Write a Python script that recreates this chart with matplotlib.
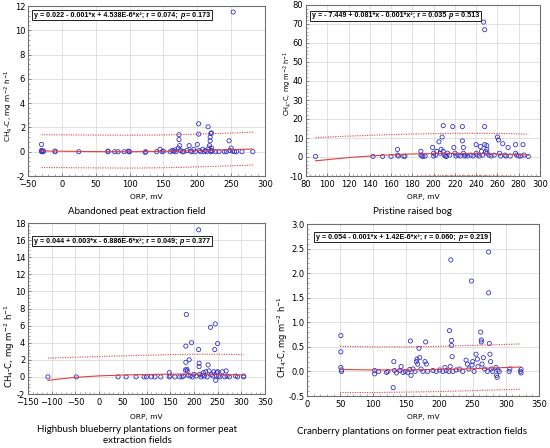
import numpy as np
import matplotlib
matplotlib.use("Agg")
import matplotlib.pyplot as plt
from matplotlib.patches import Rectangle
from matplotlib.transforms import Bbox, IdentityTransform
from matplotlib.ticker import FormatStrFormatter, AutoMinorLocator

# ---- data ----
# Abandoned peat extraction field
orp_a = [-30, -30, -29, -28, -27, -30, -10, -10, 25, 68, 68, 78, 83, 92, 98, 99, 100,
         123, 124, 140, 145, 148, 150, 160, 163, 165, 167, 168, 172, 173, 173, 174, 175,
         178, 180, 185, 188, 190, 192, 195, 197, 200, 202, 202, 203, 205, 208, 210, 212,
         214, 216, 217, 218, 219, 219, 220, 221, 220, 221, 222, 220, 227, 232, 240, 243,
         247, 248, 250, 252, 253, 255, 258, 266, 282]
ch4_a = [0.6, 0.1, 0.05, 0, 0.05, 0, 0, 0.05, 0, 0, 0.05, 0, 0, 0, 0.05, 0, 0,
         -0.05, 0, 0, 0.2, 0, 0.05, 0, 0.1, 0.05, 0.15, 0, 0.3, 1.4, 1.0, 0.5, 0.1,
         0, 0, 0.1, 0.5, 0.05, 0, 0.2, 0, 0.6, 2.3, 1.45, 0.1, 0, 0.2, 0, 0.1,
         0, 2.05, 0.3, 0.5, 1.2, 0.9, 1.5, 1.55, 0.1, 0.3, 0.05, 0, 0, 0, 0, 0,
         0.9, 0.1, 0.3, 0.05, 11.5, 0, 0, 0, 0]
fit_x_a = [-30, 50, 100, 150, 200, 282]
fit_a = [0.06, 0.01, 0.0, 0.03, 0.09, 0.22]
upper_a = [1.4, 1.37, 1.36, 1.38, 1.45, 1.6]
lower_a = [-1.3, -1.33, -1.35, -1.32, -1.25, -1.1]

# Pristine raised bog
orp_b = [89, 143, 152, 160, 166, 166, 167, 172, 173, 188, 188, 189, 190, 192,
         199, 200, 200, 202, 203, 205, 206, 207, 208, 209, 209, 210, 211, 212, 213,
         215, 218, 219, 220, 221, 223, 225, 227, 227, 228, 228, 229, 230, 232, 235,
         237, 240, 240, 241, 243, 244, 245, 246, 247, 248, 248, 248, 249, 250, 250,
         250, 252, 254, 257, 260, 261, 262, 263, 265, 267, 268, 270, 272, 277, 277,
         278, 280, 282, 284, 285, 289]
ch4_b = [0.3, 0.3, 0.3, 0.3, 4, 1, 0.5, 0.3, 0.5, 3, 1, 0.5, 0.3, 0.5,
         5, 2, 0.5, 1, 3, 8, 2, 4, 10.5, 16.5, 3, 1, 0.5, 0.3, 2,
         1, 16, 5, 2, 0.5, 1, 0.5, 16, 8.5, 5, 2, 0.5, 1, 0.5, 1,
         0.5, 6.5, 2, 1, 0.5, 5.5, 3, 1, 71, 67, 16, 6.5, 3, 6, 4,
         2, 1, 0.5, 1, 10.5, 9, 2, 0.5, 7, 1, 0.5, 5, 0.5, 6.5, 2,
         1, 0.5, 0.5, 6.5, 1, 0.3]
fit_x_b = [89, 120, 150, 180, 210, 240, 270, 289]
fit_b = [-2.0, -0.3, 0.9, 1.6, 1.9, 1.8, 1.4, 1.0]
upper_b = [10.2, 11.0, 11.6, 12.1, 12.4, 12.5, 12.3, 12.0]
lower_b = [-14.0, -12.2, -11.0, -10.3, -9.9, -9.8, -10.1, -10.6]

# Highbush blueberry plantations
orp_c = [-108, -48, 40, 57, 78, 95, 100, 110, 118, 130, 148, 148, 150, 160, 170,
         175, 178, 182, 183, 183, 184, 185, 186, 188, 190, 192, 195, 197, 200, 205,
         210, 210, 211, 211, 212, 215, 218, 220, 222, 225, 228, 230, 232, 235, 237,
         240, 242, 244, 245, 246, 247, 248, 250, 250, 252, 255, 260, 265, 268, 270,
         275, 288, 292, 305, 305]
ch4_c = [0, 0, 0, 0, 0, 0, 0, 0, 0, 0, 0.5, 0, 0.1, 0, 0,
         0, 0.1, 0.8, 1.7, 3.6, 7.3, 0.9, 0.7, 0.2, 2.0, 0.1, 4.0, 0, 0.3, 0.1,
         17.2, 3.2, 1.6, 1.2, 0.3, 0, 0.2, 0.5, 0.1, 0.6, 0, 1.4, 0.7, 5.8, 0.3,
         0.1, 0.6, 3.2, 6.2, -0.4, 0.1, 0.5, 3.9, 0.6, 0.1, 0, 0.6, 0, 0.7, 0.1,
         0, 0.1, 0, 0.1, 0]
fit_x_c = [-108, -50, 0, 50, 100, 150, 200, 250, 305]
fit_c = [-0.4, -0.05, 0.12, 0.22, 0.28, 0.32, 0.33, 0.3, 0.22]
upper_c = [2.2, 2.3, 2.38, 2.46, 2.54, 2.6, 2.65, 2.65, 2.6]
lower_c = [-2.9, -2.55, -2.35, -2.2, -2.12, -2.08, -2.05, -2.08, -2.15]

# Cranberry plantations
orp_d = [51, 51, 51, 52, 52, 102, 102, 108, 120, 122, 130, 131, 132, 135, 140, 142,
         145, 148, 152, 155, 156, 157, 160, 163, 165, 166, 167, 169, 170, 172, 175,
         178, 179, 180, 182, 190, 195, 200, 205, 208, 210, 214, 215, 216, 217, 218,
         218, 219, 220, 225, 230, 235, 240, 242, 244, 248, 249, 250, 252, 255, 257,
         258, 262, 263, 263, 264, 266, 268, 272, 274, 274, 275, 276, 277, 278, 280,
         285, 286, 287, 288, 290, 305, 306, 322, 323, 323]
ch4_d = [0.73, 0.4, 0.08, 0.03, 0.0, -0.05, 0.02, 0.0, -0.02, 0.0, -0.33, 0.2, 0.02,
         -0.03, 0.02, 0.1, -0.02, 0.0, -0.02, 0.04, 0.62, -0.08, 0.05, 0.0, 0.2, 0.25,
         0.15, 0.47, 0.28, 0.05, 0.0, 0.2, 0.6, 0.15, 0.0, 0.02, 0.0, 0.03, 0.0, 0.08,
         0.02, 0.0, 0.83, 0.1, 2.27, 0.63, 0.53, 0.3, 0.0, 0.03, 0.05, 0.0, 0.23, 0.15,
         0.05, 1.84, 0.13, 0.2, 0.0, 0.35, 0.25, 0.1, 0.8, 0.64, 0.6, 0.15, 0.28, 0.05,
         0.0, 2.43, 1.6, 0.57, 0.35, 0.2, 0.05, 0.0, 0.08, -0.08, -0.12, 0.03, 0.0,
         0.0, 0.05, 0.0, 0.04, -0.03]
fit_x_d = [50, 100, 150, 200, 250, 300, 323]
fit_d = [0.04, 0.03, 0.03, 0.04, 0.055, 0.08, 0.09]
upper_d = [0.51, 0.5, 0.5, 0.51, 0.53, 0.55, 0.56]
lower_d = [-0.43, -0.43, -0.42, -0.41, -0.39, -0.37, -0.36]

# equation boxes: part before italic p, then the p value
eq_heads = [
    "y = 0.022 - 0.001*x + 4.538E-6*x²; r = 0.074; ",
    "y = - 7.449 + 0.081*x - 0.001*x²; r = 0.035 ",
    "y = 0.044 + 0.003*x - 6.886E-6*x²; r = 0.049; ",
    "y = 0.054 - 0.001*x + 1.42E-6*x²; r = 0.060; ",
]
eq_tails = [" = 0.173", " = 0.513", " = 0.377", " = 0.219"]
titles = ["Abandoned peat extraction field", "Pristine raised bog",
          "Highbush blueberry plantations on former peat\nextraction fields",
          "Cranberry plantations on former peat extraction fields"]

panels = [
    (orp_a, ch4_a, fit_x_a, fit_a, upper_a, lower_a, (-50, 300), np.arange(-50, 301, 50), (-2, 12), np.arange(-2, 13, 2), "%d"),
    (orp_b, ch4_b, fit_x_b, fit_b, upper_b, lower_b, (80, 300), np.arange(80, 301, 20), (-10, 80), np.arange(-10, 81, 10), "%d"),
    (orp_c, ch4_c, fit_x_c, fit_c, upper_c, lower_c, (-150, 350), np.arange(-150, 351, 50), (-2, 18), np.arange(-2, 19, 2), "%d"),
    (orp_d, ch4_d, fit_x_d, fit_d, upper_d, lower_d, (0, 350), np.arange(0, 351, 50), (-0.5, 3.0), np.arange(-0.5, 3.01, 0.5), "%.1f"),
]

# axes rectangles in pixels (left, top, right, bottom)
W, H = 550, 448
boxes_px = [(28, 6, 265, 176), (306, 5, 540, 176), (28, 223, 265, 394), (307, 224, 539, 396)]
eq_px = [(34, 15.5), (312, 16), (34, 241), (316, 237)]
ylab_pos = [(-0.055, 0.41), (-0.051, 0.54), (-0.046, 0.28), (-0.073, 0.34)]
ylab_size = [5.3, 4.8, 6.2, 6.0]
xlabel_y = [197, 197, 417, 417]
title_y = [211, 211, 435, 431]
title_x = [137, 412, 137, 412]
eq_font = ["Liberation Sans Narrow", "Liberation Sans"]

fig = plt.figure(figsize=(5.5, 4.48), dpi=100)
fig.patch.set_facecolor("white")

eq_parts = []
for i, (xs, ys, fx, fy, fu, fl, xl, xt, yl, yt, fmt) in enumerate(panels):
    l, t, r, b = boxes_px[i]
    ax = fig.add_axes((l / W, 1 - b / H, (r - l) / W, (b - t) / H))
    ax.set_facecolor("white")
    ax.set_xlim(xl)
    ax.set_ylim(yl)
    # light grid at the major ticks
    for gx in xt[1:-1]:
        ax.axvline(gx, color="#dcdcdc", linewidth=0.6, zorder=0)
    for gy in yt[1:-1]:
        ax.axhline(gy, color="#dcdcdc", linewidth=0.6, zorder=0)
    ax.scatter(xs, ys, s=9, facecolors="none", edgecolors="#3434c8", linewidths=0.6, zorder=3)
    ax.plot(fx, fy, color="#e04040", linewidth=0.8, zorder=4)
    ax.plot(fx, fu, color="#e04040", linewidth=0.8, linestyle=(0, (1, 1.2)), zorder=4)
    ax.plot(fx, fl, color="#e04040", linewidth=0.8, linestyle=(0, (1, 1.2)), zorder=4)
    ax.set_xticks(xt)
    ax.set_yticks(yt)
    ax.yaxis.set_major_formatter(FormatStrFormatter(fmt))
    ax.xaxis.set_minor_locator(AutoMinorLocator(5))
    ax.yaxis.set_minor_locator(AutoMinorLocator(5))
    ax.tick_params(which="major", direction="in", length=2.5, width=0.6, labelsize=6.0,
                   color="#707070")
    ax.tick_params(axis="y", which="major", pad=2)
    ax.tick_params(axis="x", which="major", pad=3)
    ax.tick_params(which="minor", direction="in", length=1.2, width=0.4, color="#707070")
    for sp in ax.spines.values():
        sp.set_color("#707070")
        sp.set_linewidth(0.8)
    ax.set_ylabel(r"CH$_4$-C, mg m$^{-2}$ h$^{-1}$", fontsize=ylab_size[i])
    ax.yaxis.set_label_coords(*ylab_pos[i])

    # equation: plain text, italic p, plain value, chained left to right
    t1 = ax.text((eq_px[i][0] - l) / (r - l), (b - eq_px[i][1]) / (b - t), eq_heads[i],
                 transform=ax.transAxes, fontsize=5.1, fontweight="bold",
                 va="center", ha="left", family=eq_font, zorder=10)
    t2 = ax.annotate("p", xy=(1, 0), xycoords=t1, va="bottom", ha="left",
                     fontsize=5.1, fontweight="bold", style="italic", family=eq_font, zorder=10)
    t3 = ax.annotate(eq_tails[i], xy=(1, 0), xycoords=t2, va="bottom", ha="left",
                     fontsize=5.1, fontweight="bold", family=eq_font, zorder=10)
    eq_parts.append((ax, [t1, t2, t3]))

    cx = (l + r) / 2 / W
    fig.text(cx, 1 - xlabel_y[i] / H, "ORP, mV", ha="center", va="center", fontsize=5.4)
    fig.text(title_x[i] / W, 1 - title_y[i] / H, titles[i], ha="center", va="center",
             fontsize=7, family=["Lato", "DejaVu Sans"], linespacing=1.3)

# frame each equation once its text extents are known
fig.canvas.draw()
renderer = fig.canvas.get_renderer()
for ax, parts in eq_parts:
    bb = Bbox.union([p.get_window_extent(renderer) for p in parts])
    ax.add_patch(Rectangle((bb.x0 - 2, bb.y0 - 1.5), bb.width + 4, bb.height + 3,
                           transform=IdentityTransform(), facecolor="white",
                           edgecolor="#202020", linewidth=0.7, zorder=9, clip_on=False))

fig.savefig("out.png", dpi=100, facecolor="white")
